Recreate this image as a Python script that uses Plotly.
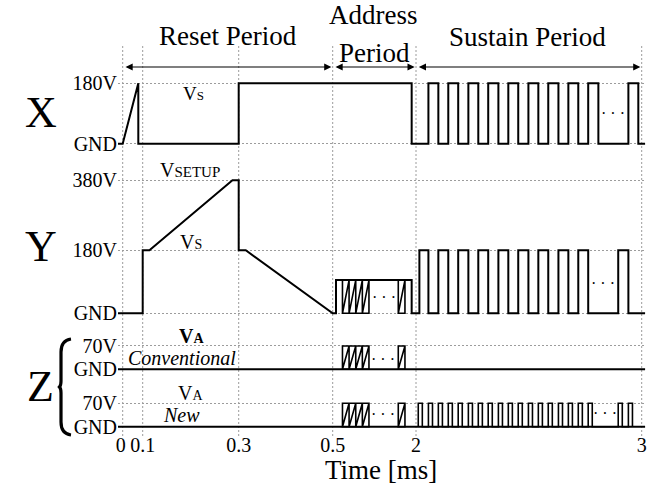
import numpy as np
import plotly.graph_objects as go

W, H = 653, 489
FONT = "Liberation Serif, Times New Roman, serif"

# ---- time axis (schematic, piecewise scale) ----
T_TICKS = [0, 0.1, 0.3, 0.5, 2, 3]
T_LABELS = ["0\u2009", "0.1", "0.3", "0.5", "2", "3"]
POS_TICKS = [0, 20, 116, 210, 293.3, 519]   # drawing position of each tick

# ---- X electrode ----
X_T = [-0.024, 0, 0.078, 0.078, 0.3, 0.3, 1.922, 1.922]
X_V = [0, 0, 180, 0, 0, 180, 180, 0]
X_SUS_START = [2.055, 2.143, 2.232, 2.320, 2.409, 2.498, 2.586, 2.675, 2.763, 2.941]
X_SUS_END = [2.099, 2.187, 2.276, 2.365, 2.453, 2.542, 2.631, 2.719, 2.808, 2.985]
X_HIGH = 180

# ---- Y electrode ----
Y_T = [-0.024, 0.1, 0.1, 0.114, 0.287, 0.3, 0.3, 0.315, 0.5, 0.559, 0.559, 1.922, 1.922]
Y_V = [0, 0, 180, 180, 380, 380, 180, 180, 0, 0, 95, 95, 0]
Y_ADDR = 95
Y_SUS_START = [2.015, 2.099, 2.187, 2.276, 2.365, 2.453, 2.542, 2.631, 2.719, 2.896]
Y_SUS_END = [2.055, 2.143, 2.232, 2.320, 2.409, 2.498, 2.586, 2.675, 2.763, 2.941]
Y_HIGH = 180

# ---- Z (address) electrode ----
Z_HIGH = 70
SCAN_EDGES = [0.676, 0.795, 0.915, 1.034, 1.153]
LAST_SCAN = [1.681, 1.801]
ZN_SUS_START = [2.010, 2.055, 2.099, 2.143, 2.187, 2.232, 2.276, 2.320, 2.365,
                2.409, 2.453, 2.498, 2.542, 2.586, 2.631, 2.675, 2.719, 2.763,
                2.896, 2.941]
ZN_SUS_END = [2.028, 2.073, 2.117, 2.161, 2.205, 2.250, 2.294, 2.338, 2.383,
              2.427, 2.471, 2.516, 2.560, 2.604, 2.649, 2.693, 2.737, 2.781,
              2.914, 2.959]
T_END = 3.015


def xpos(t):
    t = np.asarray(t, float)
    p = np.interp(t, T_TICKS, POS_TICKS)
    s0 = (POS_TICKS[1] - POS_TICKS[0]) / (T_TICKS[1] - T_TICKS[0])
    s1 = (POS_TICKS[-1] - POS_TICKS[-2]) / (T_TICKS[-1] - T_TICKS[-2])
    p = np.where(t < T_TICKS[0], POS_TICKS[0] + (t - T_TICKS[0]) * s0, p)
    p = np.where(t > T_TICKS[-1], POS_TICKS[-1] + (t - T_TICKS[-1]) * s1, p)
    return p


def pulse_train(starts, ends, hi):
    ts, vs = [], []
    for s, e in zip(starts, ends):
        ts += [s, s, e, e]
        vs += [0, hi, hi, 0]
    return ts, vs


def scan_block(edges, hi):
    # outlined block with saw-tooth hatching
    ts = [edges[0], edges[0], edges[-1], edges[-1], edges[0]]
    vs = [0, hi, hi, 0, 0]
    for e in edges[1:]:
        ts += [e, e]
        vs += [hi, 0]
    return ts[:-1], vs[:-1]


# rows: (axis, gnd pixel, pixel per volt, vmin, vmax, tick values, tick text)
ROWS = [
    ("y", 143.7, 0.3356, -20, 200, [0, 180], ["GND", "180V"]),
    ("y2", 313.3, 0.350, -15, 400, [0, 180, 380], ["GND", "180V", "380V"]),
    ("y3", 369.3, 0.333, -12, 80, [0, 70], ["GND", "70V"]),
    ("y4", 426.7, 0.334, -12, 80, [0, 70], ["GND", "70V"]),
]

fig = go.Figure()
LINE = dict(color="black", width=2)
THIN = dict(color="black", width=1.6)


def add(ts, vs, yax, line=LINE):
    fig.add_trace(go.Scatter(x=xpos(ts), y=vs, yaxis=yax, mode="lines",
                             line=line, hoverinfo="skip", showlegend=False))


# X
xt, xv = pulse_train(X_SUS_START, X_SUS_END, X_HIGH)
add(X_T + xt + [T_END], X_V + xv + [0], "y")

# Y
yt, yv = pulse_train(Y_SUS_START, Y_SUS_END, Y_HIGH)
add(Y_T + yt + [T_END], Y_V + yv + [0], "y2")
for blk in (SCAN_EDGES, LAST_SCAN):
    bt, bv = scan_block(blk, Y_ADDR)
    add(bt, bv, "y2", THIN)

# Z conventional / new
for yax in ("y3", "y4"):
    add([-0.024, T_END], [0, 0], yax)
    for blk in (SCAN_EDGES, LAST_SCAN):
        bt, bv = scan_block(blk, Z_HIGH)
        add(bt, bv, yax, THIN)
zt, zv = pulse_train(ZN_SUS_START, ZN_SUS_END, Z_HIGH)
add(zt, zv, "y4", THIN)

GRID = "#9c9c9c"
layout_axes = {}
for i, (name, gnd, k, vmin, vmax, tv, tt) in enumerate(ROWS):
    bottom = gnd - vmin * k
    top = gnd - vmax * k
    key = "yaxis" if i == 0 else f"yaxis{i + 1}"
    layout_axes[key] = dict(
        domain=[1 - bottom / H, 1 - top / H], range=[vmin, vmax],
        anchor="x", tickvals=tv, ticktext=tt, ticks="", automargin=False,
        showgrid=True, gridcolor=GRID, gridwidth=1, griddash="2px,2px",
        zeroline=False, showline=False, fixedrange=True,
        tickfont=dict(family=FONT, size=20, color="black"),
    )

X0_PX = 122.7
fig.update_layout(
    template="none",
    width=W, height=H, margin=dict(l=0, r=0, t=0, b=0, pad=0, autoexpand=False),
    paper_bgcolor="white", plot_bgcolor="white", showlegend=False,
    xaxis=dict(domain=[118 / W, 646 / W], range=[118 - X0_PX, 646 - X0_PX],
               anchor="y4", tickvals=xpos(T_TICKS), ticktext=T_LABELS,
               ticks="", tickangle=0, showgrid=False, zeroline=False,
               showline=False, fixedrange=True, automargin=False,
               tickfont=dict(family=FONT, size=20, color="black")),
    **layout_axes,
)

# vertical dashed guides at each tick time
for p in xpos(T_TICKS):
    fig.add_shape(type="line", xref="x", yref="paper", x0=p, x1=p,
                  y0=1 - 436 / H, y1=1 - 45 / H, layer="below",
                  line=dict(color=GRID, width=1, dash="2px,2px"))

# period arrows
ARROW_Y = 1 - 67 / H
for a, b in [(0, 0.5), (0.5, 2), (2, 3)]:
    pa, pb = xpos([a, b])
    fig.add_annotation(x=pb - 1.3, y=ARROW_Y, xref="x", yref="paper",
                       ax=pa + 1.3, ay=0, axref="x", ayref="pixel",
                       text="", showarrow=True, arrowside="end+start",
                       arrowhead=2, arrowsize=1.2, arrowwidth=1.2,
                       arrowcolor="black", standoff=0, startstandoff=0)


def txt(x, y, s, size, **kw):
    fig.add_annotation(x=x / W, y=1 - y / H, xref="paper", yref="paper",
                       text=s, showarrow=False, xanchor="center",
                       yanchor="middle",
                       font=dict(family=FONT, size=size, color="black"), **kw)


txt(227.5, 36.5, "Reset Period", 27)
txt(373.5, 15, "Address", 27)
txt(374, 52.5, "Period", 27)
txt(527, 37, "Sustain Period", 27)
txt(381, 470, "Time [ms]", 27)

txt(40.5, 112.5, "X", 44)
txt(41, 246.5, "Y", 44)
txt(40, 386, "Z", 44)

txt(193.5, 94, "V<span style='font-size:13px'>S</span>", 19)
txt(190, 169.5, "V<span style='font-size:15px'>SETUP</span>", 20)
txt(191, 242, "V<span style='font-size:14px'>S</span>", 20)
txt(191, 335.5, "<b>V<span style='font-size:14px'>A</span></b>", 20)
txt(181.5, 357.5, "<i>Conventional</i>", 20)
txt(190.5, 392.5, "V<span style='font-size:14px'>A</span>", 20)
txt(181.5, 414.5, "<i>New</i>", 20)

# ellipses for omitted pulses
for x, y in [(613, 113), (602.5, 283), (383.5, 297), (382.5, 359),
             (382.5, 414), (605, 413)]:
    txt(x, y, "· · ·", 16)

# brace grouping the two Z traces
pts = "M 71 339 C 64 340 61 344 61 352 L 61 381 C 61 384 60.5 386 59.5 387 " \
      "C 60.5 388 61 390 61 393 L 61 422 C 61 430 64 434 71 435"
tok = pts.split()
out, coord = [], []
for t in tok:
    try:
        coord.append(float(t))
    except ValueError:
        out.append(t)
        continue
    if len(coord) == 2:
        out.append(f"{coord[0] / W:.5f},{1 - coord[1] / H:.5f}")
        coord = []
fig.add_shape(type="path", xref="paper", yref="paper", path=" ".join(out),
              line=dict(color="black", width=3.2))

fig.write_html("out.html")
